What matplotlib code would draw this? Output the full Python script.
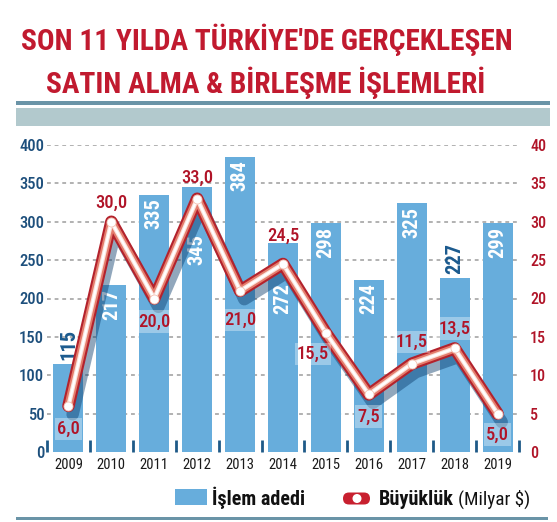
import os
import matplotlib
matplotlib.use("Agg")
import numpy as np
import matplotlib.pyplot as plt
from matplotlib import font_manager as fm
from matplotlib.font_manager import FontProperties
from matplotlib.patches import Rectangle, FancyBboxPatch, Ellipse
import matplotlib.patheffects as pe

# ---------------- data ----------------
years = ["2009", "2010", "2011", "2012", "2013", "2014", "2015", "2016", "2017", "2018", "2019"]
deal_counts = [115, 217, 335, 345, 384, 272, 298, 224, 325, 227, 299]
deal_values = [6.0, 30.0, 20.0, 33.0, 21.0, 24.5, 15.5, 7.5, 11.5, 13.5, 5.0]
left_ticks = [0, 50, 100, 150, 200, 250, 300, 350, 400]
right_ticks = [0, 5, 10, 15, 20, 25, 30, 35, 40]
title_lines = ["SON 11 YILDA TÜRKİYE'DE GERÇEKLEŞEN", "SATIN ALMA & BİRLEŞME İŞLEMLERİ"]
legend_bar_text = "İşlem adedi"
legend_line_bold = "Büyüklük"
legend_line_rest = "(Milyar $)"

# ---------------- layout / style ----------------
W, H = 557, 522
RED = "#C11A2F"
DARKRED = "#B01428"
BLUE_TXT = "#1D4F7C"
BAR = "#67ADDC"
BAND_DARK = "#6A94A7"
BAND_LIGHT = "#B2C9CD"

# label placement (px offsets from the point): + below, - above
val_label_dy = [23, -19, 23, -21, 29, -28, 21, 22, -22, -20, 21]
val_label_dx = [0, 0, 0, 0, 0, 0, -13, 0, 0, 0, 0]
val_label_box = [True, False, True, False, True, False, True, True, True, True, True]
# bar labels: offset in px of label top below bar top; None -> placed above bar (dark)
bar_label_dy = [None, 4, 3, 47, 3, 40, 4, 3, 4, None, 4]

_files = {}
for f in fm.fontManager.ttflist:
    _files[os.path.splitext(os.path.basename(f.fname))[0].lower()] = f.fname


def pick_font(cands, fallback_weight="normal"):
    for c in cands:
        if c.lower() in _files:
            return FontProperties(fname=_files[c.lower()])
    return FontProperties(family="DejaVu Sans", weight=fallback_weight)


BOLD_C = pick_font(["RobotoCondensed-Bold", "NotoSans-CondensedBold",
                    "OpenSans-CondBold", "OpenSansCondensed-Bold", "LiberationSansNarrow-Bold",
                    "DejaVuSansCondensed-Bold"], "bold")
SEMI_C = pick_font(["RobotoCondensed-Medium", "NotoSans-CondensedMedium",
                    "RobotoCondensed-Regular", "NotoSans-Condensed",
                    "LiberationSansNarrow-Regular", "DejaVuSansCondensed"])
REG_C = pick_font(["RobotoCondensed-Regular", "NotoSans-Condensed",
                   "LiberationSansNarrow-Regular", "DejaVuSansCondensed"])

fig = plt.figure(figsize=(W / 100, H / 100), dpi=100)
fig.patch.set_facecolor("white")
renderer = fig.canvas.get_renderer()


def fp_sized(base, size):
    p = base.copy()
    p.set_size(size)
    return p


def fit_size(base, s, target_px, ref=20.0):
    w, h, d = renderer.get_text_width_height_descent(s, fp_sized(base, ref), ismath=False)
    return ref * target_px / w


# overlay axes in pixel coordinates
ov = fig.add_axes([0, 0, 1, 1], zorder=5)
ov.set_xlim(0, W)
ov.set_ylim(H, 0)
ov.axis("off")
ov.patch.set_visible(False)

# title
t1 = fit_size(BOLD_C, title_lines[0], 492)
t2 = fit_size(BOLD_C, title_lines[1], 440)
ov.text(267, 50, title_lines[0], ha="center", va="baseline", color=RED, fontproperties=fp_sized(BOLD_C, t1))
ov.text(266, 93, title_lines[1], ha="center", va="baseline", color=RED, fontproperties=fp_sized(BOLD_C, t2))

# bands
ov.add_patch(Rectangle((16, 101), 534, 4, color=BAND_DARK, lw=0))
ov.add_patch(Rectangle((16, 107.5), 534, 18.5, color=BAND_LIGHT, lw=0))
ov.add_patch(Rectangle((16, 516.5), 532, 3.5, color=BAND_DARK, lw=0))

# legend
ov.add_patch(Rectangle((175, 489), 32, 16, color=BAR, lw=0))
lsz = fit_size(BOLD_C, legend_bar_text, 93)
ov.text(212, 505, legend_bar_text, ha="left", va="baseline", color="#111111", fontproperties=fp_sized(BOLD_C, lsz))
ov.add_patch(FancyBboxPatch((343, 492.5), 27, 12, boxstyle="round,pad=0,rounding_size=6",
                            fc="#C8202F", ec="none"))
ov.add_patch(Ellipse((357, 498.5), 9, 9, fc="white", ec="none"))
bsz = fit_size(BOLD_C, legend_line_bold, 75)
ov.text(379, 505, legend_line_bold, ha="left", va="baseline", color="#111111", fontproperties=fp_sized(BOLD_C, bsz))
rsz = fit_size(REG_C, legend_line_rest, 72)
ov.text(458, 505, legend_line_rest, ha="left", va="baseline", color="#111111", fontproperties=fp_sized(REG_C, rsz))

# ---------------- main chart ----------------
x0, x1, ytop, ybot = 47, 519, 145, 452
ax = fig.add_axes([x0 / W, 1 - ybot / H, (x1 - x0) / W, (ybot - ytop) / H])
ax.patch.set_visible(False)
x = np.arange(len(years))
ax.set_xlim(-0.5, len(years) - 0.5)
ax.set_ylim(0, 400)
for s in ax.spines.values():
    s.set_visible(False)

for v in left_ticks[1:]:
    ax.axhline(v, color="#9C9C9C", lw=1.1, ls=(0, (2.5, 2.5)), zorder=0)

bars = ax.bar(x, deal_counts, width=0.7, color=BAR, zorder=1)

ax.set_yticks(left_ticks)
ax.set_yticklabels([str(v) for v in left_ticks])
ysz = fit_size(SEMI_C, "400", 25)
for lab in ax.get_yticklabels():
    lab.set_fontproperties(fp_sized(SEMI_C, ysz))
    lab.set_color(BLUE_TXT)
ax.tick_params(axis="y", length=0, pad=2)

ax.set_xticks(x)
ax.set_xticklabels(years)
xsz = fit_size(REG_C, "2009", 29)
for lab in ax.get_xticklabels():
    lab.set_fontproperties(fp_sized(REG_C, xsz))
    lab.set_color("#1A1A1A")
ax.tick_params(axis="x", which="major", length=0, pad=4)
ax.set_xticks(np.arange(-0.5, len(years), 1.0), minor=True)
ax.tick_params(axis="x", which="minor", direction="in", length=8.5, width=2.0, color="#1E5A88")

blsz = fit_size(BOLD_C, "217", 31)
for xi, v, dy in zip(x, deal_counts, bar_label_dy):
    if dy is None:
        ax.annotate(str(v), (xi, v), xytext=(0, 4 / 1.389), textcoords="offset points",
                    rotation=90, ha="center", va="bottom", color="#1B5A8E",
                    fontproperties=fp_sized(BOLD_C, blsz), zorder=3)
    else:
        ax.annotate(str(v), (xi, v), xytext=(0, -dy / 1.389), textcoords="offset points",
                    rotation=90, ha="center", va="top", color="white",
                    fontproperties=fp_sized(BOLD_C, blsz), zorder=3)

# line on secondary axis
ax2 = ax.twinx()
ax2.set_ylim(0, 40)
for s in ax2.spines.values():
    s.set_visible(False)
ax2.set_yticks(right_ticks)
ax2.set_yticklabels([str(v) for v in right_ticks])
rsz2 = fit_size(SEMI_C, "40", 16)
for lab in ax2.get_yticklabels():
    lab.set_fontproperties(fp_sized(SEMI_C, rsz2))
    lab.set_color(DARKRED)
ax2.tick_params(axis="y", length=0, pad=8)

ln, = ax2.plot(x, deal_values, color="#B3222C", lw=9, solid_joinstyle="round",
               solid_capstyle="round", zorder=4)
ln.set_path_effects([
    pe.SimpleLineShadow(offset=(3, -6), shadow_color="#0C3D6C", alpha=0.45),
    pe.Normal(),
    pe.Stroke(linewidth=6.0, foreground="#E47C6C"),
    pe.Stroke(linewidth=3.2, foreground="#FBE3DC"),
    pe.Stroke(linewidth=1.6, foreground="white"),
])
ax2.plot(x, deal_values, "o", ms=6.5, mfc="white", mec="#F4C2B4", mew=0.6, zorder=5)

vsz = fit_size(SEMI_C, "30,0", 32)
for xi, v, dy, dx, box in zip(x, deal_values, val_label_dy, val_label_dx, val_label_box):
    txt = f"{v:.1f}".replace(".", ",")
    kw = {}
    if box:
        kw["bbox"] = dict(boxstyle="square,pad=0.12", fc="white", ec="none", alpha=0.35)
    ax2.annotate(txt, (xi, v), xytext=(dx / 1.389, -dy / 1.389), textcoords="offset points",
                 ha="center", va="center", color=DARKRED, fontproperties=fp_sized(SEMI_C, vsz),
                 zorder=6, **kw)

fig.savefig("out.png", dpi=100, facecolor="white")
